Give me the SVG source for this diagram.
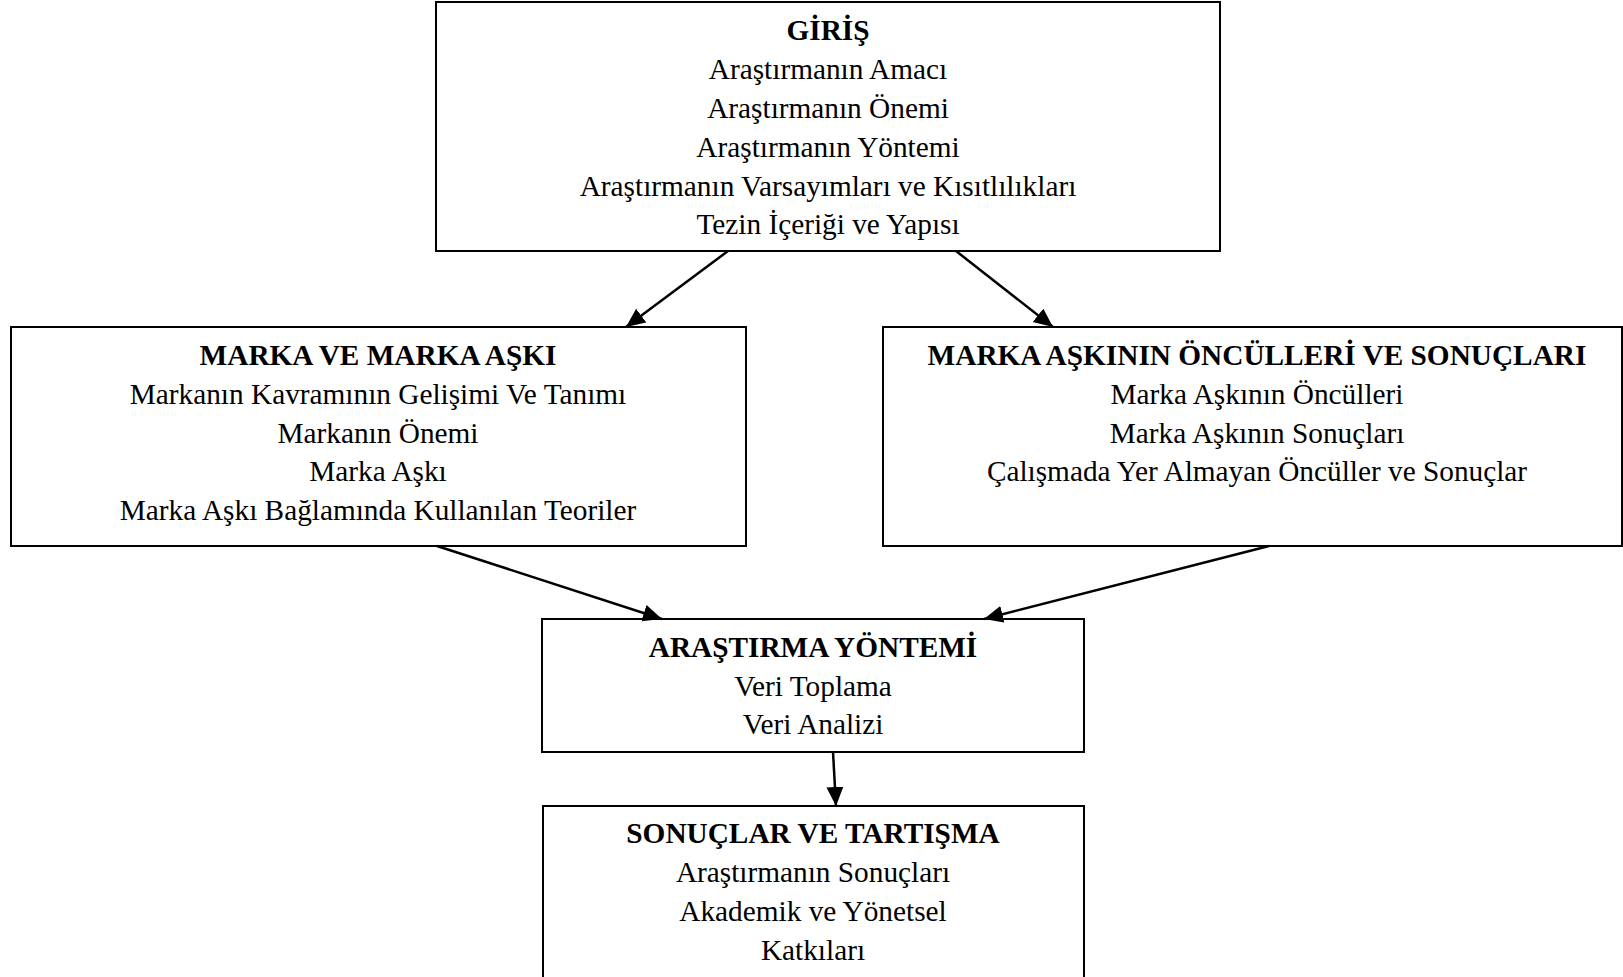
<svg xmlns="http://www.w3.org/2000/svg" width="1623" height="977" viewBox="0 0 1623 977">
  <style>
    .box { fill: #ffffff; stroke: #000000; stroke-width: 2; }
    .t { font-family: "Liberation Serif", "Times New Roman", serif; font-size: 29.3px; fill: #000000; text-anchor: middle; }
    .h { font-weight: bold; }
    .link { fill: none; stroke: #000000; stroke-width: 2.5; marker-end: url(#arrow); }
  </style>
  <defs>
    <marker id="arrow" markerUnits="userSpaceOnUse" markerWidth="20" markerHeight="18" refX="19" refY="8.5" orient="auto">
      <path d="M0,0 L19,8.5 L0,17 z" fill="#000000"/>
    </marker>
  </defs>
  <rect width="1623" height="977" fill="#ffffff"/>

  <g id="giris">
    <rect class="box" x="436" y="2" width="784" height="249"/>
    <text class="t h" x="828" y="40">GİRİŞ</text>
    <text class="t" x="828" y="79">Araştırmanın Amacı</text>
    <text class="t" x="828" y="118">Araştırmanın Önemi</text>
    <text class="t" x="828" y="157">Araştırmanın Yöntemi</text>
    <text class="t" x="828" y="196">Araştırmanın Varsayımları ve Kısıtlılıkları</text>
    <text class="t" x="828" y="234">Tezin İçeriği ve Yapısı</text>
  </g>

  <g id="marka">
    <rect class="box" x="11" y="327" width="735" height="219"/>
    <text class="t h" x="378" y="365">MARKA VE MARKA AŞKI</text>
    <text class="t" x="378" y="404">Markanın Kavramının Gelişimi Ve Tanımı</text>
    <text class="t" x="378" y="443">Markanın Önemi</text>
    <text class="t" x="378" y="481">Marka Aşkı</text>
    <text class="t" x="378" y="520">Marka Aşkı Bağlamında Kullanılan Teoriler</text>
  </g>

  <g id="oncul">
    <rect class="box" x="883" y="327" width="739" height="219"/>
    <text class="t h" x="1257" y="365">MARKA AŞKININ ÖNCÜLLERİ VE SONUÇLARI</text>
    <text class="t" x="1257" y="404">Marka Aşkının Öncülleri</text>
    <text class="t" x="1257" y="443">Marka Aşkının Sonuçları</text>
    <text class="t" x="1257" y="481">Çalışmada Yer Almayan Öncüller ve Sonuçlar</text>
  </g>

  <g id="yontem">
    <rect class="box" x="542" y="619" width="542" height="133"/>
    <text class="t h" x="813" y="657">ARAŞTIRMA YÖNTEMİ</text>
    <text class="t" x="813" y="696">Veri Toplama</text>
    <text class="t" x="813" y="734">Veri Analizi</text>
  </g>

  <g id="sonuc">
    <rect class="box" x="543" y="806" width="541" height="190"/>
    <text class="t h" x="813" y="843">SONUÇLAR VE TARTIŞMA</text>
    <text class="t" x="813" y="882">Araştırmanın Sonuçları</text>
    <text class="t" x="813" y="921">Akademik ve Yönetsel</text>
    <text class="t" x="813" y="960">Katkıları</text>
  </g>

  <g id="connectors">
    <line class="link" x1="728" y1="251" x2="626" y2="327"/>
    <line class="link" x1="956" y1="251" x2="1053" y2="327"/>
    <line class="link" x1="437" y1="546" x2="662" y2="619"/>
    <line class="link" x1="1269" y1="546" x2="984" y2="619"/>
    <line class="link" x1="833" y1="752" x2="836" y2="806"/>
  </g>
</svg>
